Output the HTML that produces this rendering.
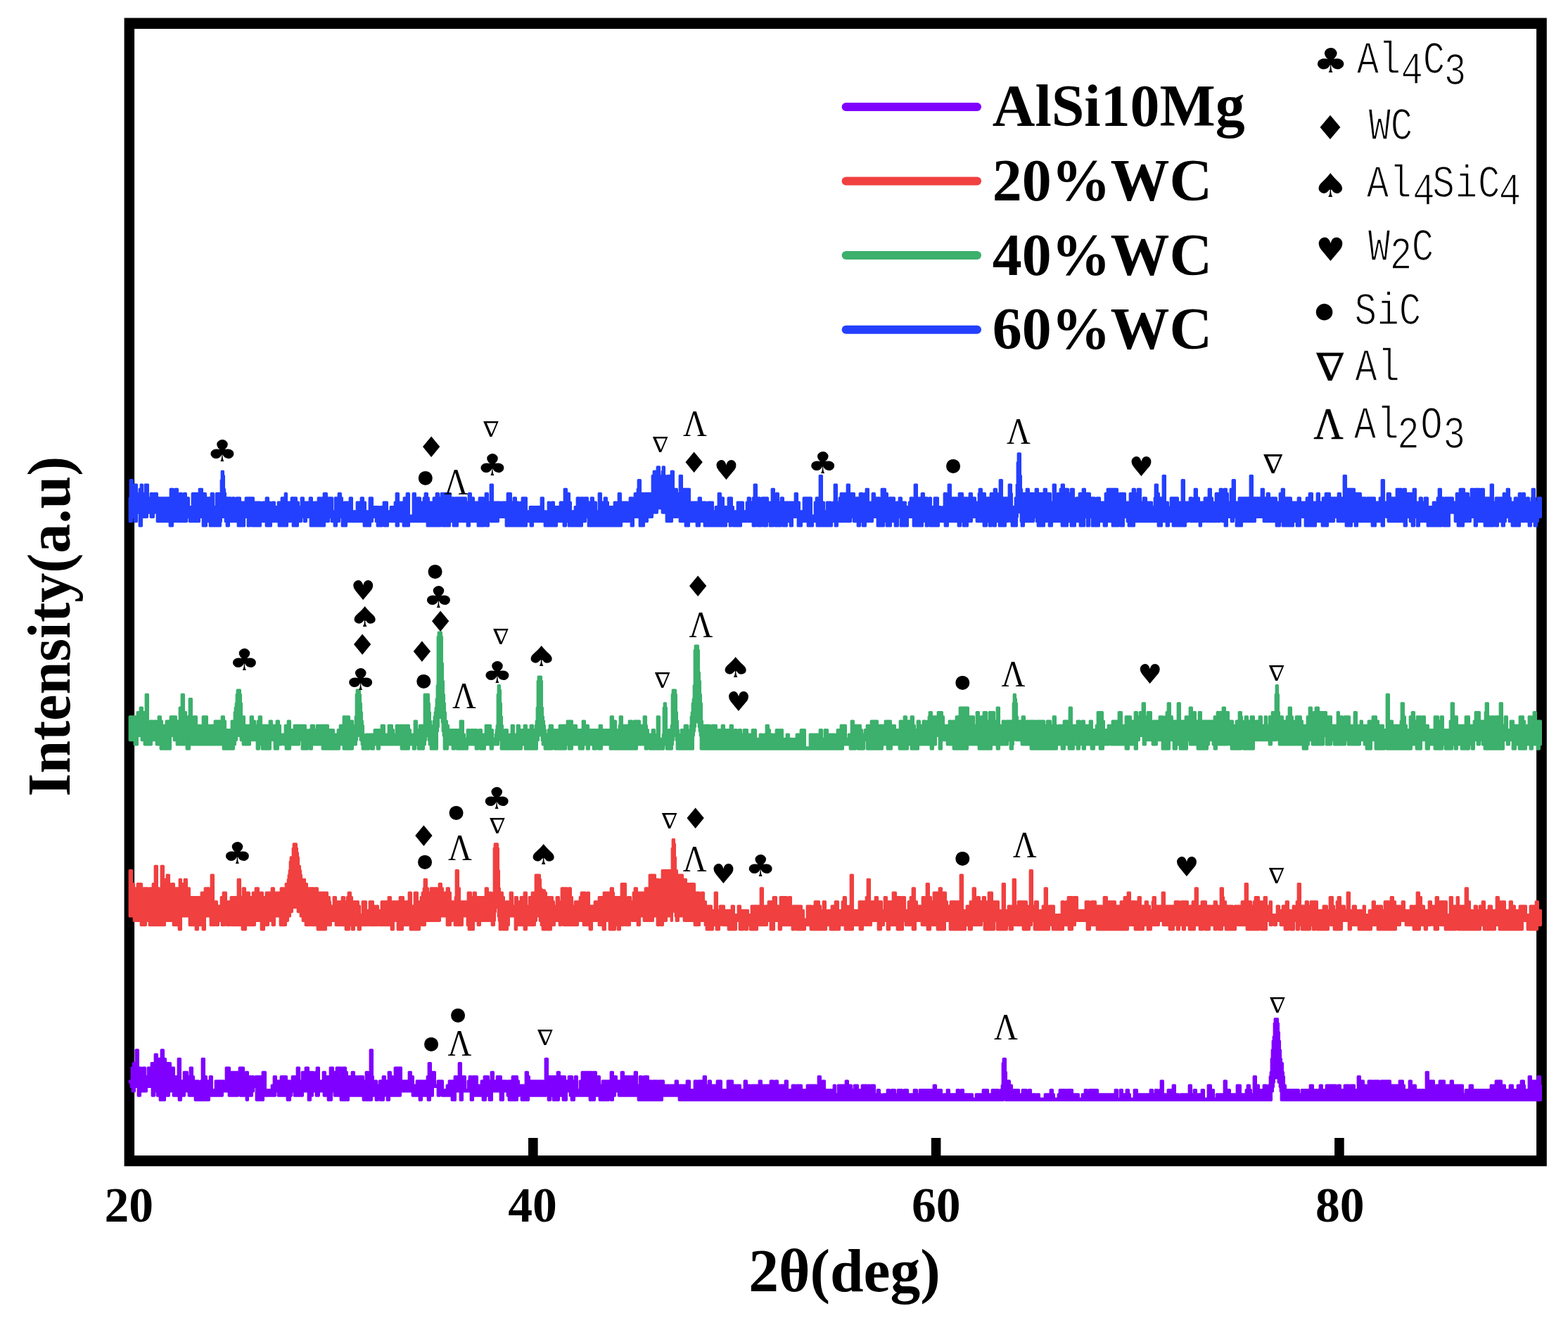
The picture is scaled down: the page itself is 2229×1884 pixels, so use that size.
<!DOCTYPE html>
<html lang="en">
<head>
<meta charset="utf-8">
<title>XRD patterns</title>
<style>
html,body{margin:0;padding:0;background:#fff;}
body{width:2229px;height:1884px;overflow:hidden;}
svg{display:block;}
text{fill:#000;}
</style>
</head>
<body>
<svg width="2229" height="1884" viewBox="0 0 2229 1884">
<rect width="2229" height="1884" fill="#fff"/>
<g id="frame">
<path d="M176.6 25.4H2198.8V1658.3H176.6ZM191.1 41V1642.9H2184.1V41Z" fill="#000" fill-rule="evenodd"/>
<rect x="751.0" y="1618" width="13.6" height="26" fill="#000"/>
<rect x="1323.8" y="1618" width="13.6" height="26" fill="#000"/>
<rect x="1897.1" y="1618" width="13.6" height="26" fill="#000"/>
</g>
<g id="traces">
<path d="M184.3 1537H187.3V1518.1H189.3V1511.8H193.3V1492.9H196.3V1524.4H197.3V1518.1H200.3V1524.4H203.3V1518.1H206.3V1530.7H210.3V1518.1H215.3V1511.8H220.3V1499.2H223.3V1511.8H224.3V1505.5H227.3V1511.8H229.3V1492.9H232.3V1505.5H235.3V1518.1H237.3V1511.8H242.3V1518.1H247.3V1530.7H253.3V1505.5H256.3V1537H261.3V1524.4H266.3V1530.7H270.3V1518.1H273.3V1530.7H275.3V1537H282.3V1543.3H285.3V1537H287.3V1505.5H290.3V1530.7H293.3V1537H298.3V1530.7H301.3V1549.6H306.3V1537H318.3V1543.3H321.3V1518.1H326.3V1524.4H338.3V1543.3H340.3V1518.1H346.3V1530.7H349.3V1524.4H352.3V1537H354.3V1530.7H360.3V1543.3H363.3V1530.7H371.3V1543.3H373.3V1524.4H377.3V1549.6H386.3V1543.3H389.3V1530.7H392.3V1537H397.3V1543.3H399.3V1530.7H407.3V1537H412.3V1549.6H415.3V1530.7H422.3V1518.1H425.3V1537H429.3V1524.4H434.3V1518.1H438.3V1537H440.3V1524.4H445.3V1530.7H448.3V1524.4H450.3V1518.1H453.3V1537H459.3V1524.4H462.3V1549.6H464.3V1530.7H469.3V1518.1H473.3V1524.4H478.3V1518.1H485.3V1543.3H487.3V1518.1H491.3V1524.4H493.3V1530.7H500.3V1524.4H503.3V1530.7H506.3V1537H508.3V1530.7H516.3V1537H520.3V1524.4H523.3V1537H526.3V1492.9H529.3V1530.7H530.3V1543.3H533.3V1537H535.3V1543.3H539.3V1537H544.3V1530.7H547.3V1537H552.3V1524.4H555.3V1530.7H558.3V1543.3H561.3V1518.1H570.3V1537H581.3V1524.4H584.3V1530.7H587.3V1543.3H592.3V1537H607.3V1530.7H609.3V1511.8H612.3V1543.3H614.3V1524.4H618.3V1543.3H622.3V1537H629.3V1549.6H635.3V1543.3H638.3V1537H644.3V1549.6H646.3V1530.7H649.3V1543.3H651.3V1537H652.3V1511.8H655.3V1530.7H661.3V1549.6H665.3V1537H667.3V1530.7H670.3V1543.3H672.3V1530.7H678.3V1543.3H684.3V1537H688.3V1530.7H694.3V1537H698.3V1524.4H701.3V1537H706.3V1530.7H712.3V1537H720.3V1543.3H722.3V1537H726.3V1543.3H728.3V1530.7H735.3V1537H737.3V1543.3H747.3V1524.4H750.3V1530.7H752.3V1537H772.3V1555.9H774.3V1543.3H775.3V1505.5H778.3V1537H780.3V1530.7H792.3V1524.4H795.3V1530.7H803.3V1537H808.3V1530.7H813.3V1537H817.3V1530.7H820.3V1549.6H824.3V1537H827.3V1524.4H841.3V1537H843.3V1524.4H847.3V1543.3H849.3V1530.7H852.3V1543.3H856.3V1537H866.3V1543.3H868.3V1524.4H871.3V1543.3H873.3V1530.7H876.3V1537H883.3V1524.4H886.3V1530.7H902.3V1524.4H905.3V1543.3H909.3V1530.7H912.3V1537H915.3V1530.7H921.3V1537H926.3V1543.3H928.3V1537H934.3V1549.6H936.3V1537H943.3V1543.3H960.3V1537H963.3V1549.6H965.3V1543.3H976.3V1537H980.3V1549.6H987.3V1537H990.3V1543.3H992.3V1537H1000.3V1530.7H1003.3V1543.3H1007.3V1537H1010.3V1543.3H1019.3V1537H1025.3V1549.6H1034.3V1537H1041.3V1543.3H1052.3V1549.6H1058.3V1537H1061.3V1543.3H1066.3V1549.6H1068.3V1543.3H1079.3V1537H1082.3V1543.3H1095.3V1537H1099.3V1543.3H1102.3V1537H1105.3V1549.6H1107.3V1543.3H1116.3V1537H1119.3V1549.6H1126.3V1543.3H1130.3V1549.6H1132.3V1543.3H1139.3V1549.6H1147.3V1543.3H1160.3V1549.6H1163.3V1530.7H1166.3V1543.3H1169.3V1537H1172.3V1549.6H1185.3V1543.3H1187.3V1555.9H1191.3V1543.3H1202.3V1537H1205.3V1543.3H1210.3V1549.6H1214.3V1543.3H1219.3V1549.6H1225.3V1543.3H1232.3V1549.6H1234.3V1543.3H1236.3V1549.6H1238.3V1543.3H1243.3V1555.9H1247.3V1549.6H1250.3V1555.9H1252.3V1562.2H1255.3V1555.9H1261.3V1549.6H1264.3V1555.9H1267.3V1549.6H1272.3V1555.9H1276.3V1549.6H1282.3V1555.9H1285.3V1549.6H1290.3V1555.9H1299.3V1549.6H1303.3V1555.9H1307.3V1549.6H1327.3V1543.3H1330.3V1549.6H1338.3V1562.2H1341.3V1555.9H1346.3V1549.6H1349.3V1555.9H1360.3V1549.6H1363.3V1555.9H1366.3V1549.6H1369.3V1555.9H1382.3V1562.2H1387.3V1555.9H1397.3V1549.6H1404.3V1555.9H1410.3V1549.6H1419.3V1555.9H1422.3V1549.6H1424.3V1543.3H1425.3V1511.8H1426.3V1505.5H1429.3V1524.4H1430.3V1537H1431.3V1543.3H1432.3V1537H1435.3V1543.3H1438.3V1549.6H1448.3V1555.9H1453.3V1549.6H1459.3V1562.2H1462.3V1549.6H1465.3V1555.9H1472.3V1562.2H1474.3V1555.9H1477.3V1562.2H1485.3V1555.9H1493.3V1549.6H1496.3V1555.9H1498.3V1562.2H1504.3V1555.9H1506.3V1549.6H1514.3V1555.9H1516.3V1549.6H1524.3V1555.9H1533.3V1562.2H1538.3V1555.9H1542.3V1549.6H1545.3V1562.2H1548.3V1549.6H1560.3V1562.2H1561.3V1555.9H1585.3V1549.6H1588.3V1562.2H1592.3V1549.6H1595.3V1555.9H1601.3V1549.6H1604.3V1555.9H1606.3V1562.2H1612.3V1549.6H1616.3V1555.9H1635.3V1549.6H1638.3V1562.2H1640.3V1555.9H1642.3V1549.6H1645.3V1555.9H1648.3V1549.6H1650.3V1537H1653.3V1555.9H1660.3V1549.6H1667.3V1543.3H1670.3V1555.9H1675.3V1562.2H1678.3V1555.9H1690.3V1543.3H1693.3V1555.9H1697.3V1549.6H1700.3V1555.9H1708.3V1549.6H1711.3V1562.2H1717.3V1543.3H1721.3V1549.6H1725.3V1562.2H1729.3V1555.9H1740.3V1537H1743.3V1549.6H1748.3V1555.9H1758.3V1543.3H1763.3V1555.9H1771.3V1549.6H1773.3V1543.3H1776.3V1549.6H1778.3V1555.9H1782.3V1530.7H1785.3V1543.3H1789.3V1549.6H1793.3V1555.9H1794.3V1549.6H1796.3V1543.3H1800.3V1549.6H1803.3V1543.3H1805.3V1530.7H1806.3V1524.4H1807.3V1505.5H1808.3V1492.9H1809.3V1480.3H1810.3V1474H1811.3V1455.1H1812.3V1448.8H1816.3V1455.1H1817.3V1467.7H1818.3V1480.3H1819.3V1492.9H1820.3V1505.5H1821.3V1511.8H1823.3V1524.4H1824.3V1530.7H1825.3V1543.3H1827.3V1549.6H1846.3V1555.9H1850.3V1549.6H1860.3V1555.9H1862.3V1543.3H1866.3V1555.9H1868.3V1549.6H1876.3V1543.3H1879.3V1549.6H1883.3V1555.9H1885.3V1543.3H1899.3V1549.6H1902.3V1543.3H1905.3V1549.6H1911.3V1543.3H1918.3V1555.9H1920.3V1543.3H1925.3V1549.6H1930.3V1530.7H1933.3V1549.6H1935.3V1537H1938.3V1543.3H1942.3V1549.6H1945.3V1537H1951.3V1543.3H1953.3V1537H1960.3V1543.3H1963.3V1537H1976.3V1543.3H1989.3V1537H1994.3V1543.3H1996.3V1549.6H2003.3V1537H2006.3V1549.6H2009.3V1543.3H2012.3V1549.6H2024.3V1555.9H2026.3V1549.6H2027.3V1524.4H2030.3V1537H2038.3V1549.6H2041.3V1543.3H2044.3V1549.6H2046.3V1537H2053.3V1543.3H2062.3V1537H2065.3V1543.3H2079.3V1555.9H2083.3V1549.6H2089.3V1543.3H2093.3V1549.6H2119.3V1543.3H2121.3V1549.6H2123.3V1543.3H2126.3V1537H2134.3V1555.9H2136.3V1543.3H2139.3V1549.6H2146.3V1543.3H2150.3V1549.6H2157.3V1543.3H2160.3V1555.9H2162.3V1537H2166.3V1543.3H2167.3V1549.6H2173.3V1530.7H2176.3V1537H2186.3V1530.7H2189.3V1543.3H2190.3V1564.3H1821.3V1551.7H1820.3V1545.4H1819.3V1539.1H1817.3V1532.8H1811.3V1539.1H1810.3V1545.4H1809.3V1551.7H1807.3V1564.3H1429.3V1551.7H1427.3V1558H1426.3V1564.3H965.3V1558H941.3V1564.3H921.3V1558H919.3V1564.3H911.3V1558H909.3V1564.3H907.3V1558H884.3V1551.7H882.3V1558H879.3V1551.7H874.3V1558H871.3V1564.3H868.3V1551.7H865.3V1564.3H852.3V1558H845.3V1564.3H838.3V1558H832.3V1551.7H830.3V1558H816.3V1564.3H812.3V1558H810.3V1551.7H805.3V1564.3H800.3V1558H794.3V1564.3H791.3V1558H789.3V1564.3H786.3V1558H782.3V1564.3H779.3V1551.7H776.3V1558H751.3V1564.3H746.3V1551.7H744.3V1564.3H741.3V1551.7H738.3V1558H735.3V1564.3H723.3V1558H721.3V1551.7H715.3V1564.3H711.3V1551.7H699.3V1564.3H695.3V1558H690.3V1564.3H686.3V1551.7H684.3V1558H672.3V1564.3H669.3V1551.7H657.3V1564.3H654.3V1551.7H647.3V1564.3H642.3V1551.7H640.3V1558H637.3V1551.7H635.3V1558H628.3V1551.7H625.3V1558H622.3V1545.4H615.3V1558H611.3V1564.3H608.3V1558H599.3V1564.3H596.3V1558H586.3V1551.7H569.3V1558H553.3V1564.3H550.3V1551.7H547.3V1558H545.3V1564.3H540.3V1558H537.3V1564.3H534.3V1558H528.3V1564.3H516.3V1558H495.3V1564.3H492.3V1551.7H490.3V1564.3H484.3V1558H475.3V1551.7H471.3V1564.3H466.3V1558H460.3V1551.7H453.3V1558H449.3V1551.7H444.3V1558H441.3V1564.3H438.3V1551.7H430.3V1558H418.3V1551.7H414.3V1558H412.3V1564.3H408.3V1558H406.3V1551.7H404.3V1558H400.3V1551.7H398.3V1558H395.3V1551.7H391.3V1558H374.3V1564.3H364.3V1545.4H360.3V1551.7H358.3V1558H354.3V1551.7H352.3V1564.3H350.3V1558H341.3V1545.4H338.3V1558H325.3V1551.7H316.3V1558H311.3V1551.7H309.3V1558H297.3V1564.3H288.3V1558H286.3V1564.3H282.3V1558H280.3V1564.3H277.3V1558H268.3V1551.7H262.3V1558H257.3V1564.3H254.3V1558H246.3V1545.4H243.3V1551.7H240.3V1558H236.3V1551.7H234.3V1564.3H227.3V1558H223.3V1545.4H221.3V1551.7H219.3V1558H216.3V1545.4H208.3V1551.7H199.3V1558H196.3V1539.1H194.3V1545.4H191.3V1551.7H188.3V1545.4H186.3V1539.1H184.3Z" fill="#8000ff" stroke="#8000ff" stroke-width="3.4" stroke-linejoin="round"/>
<path d="M184.3 1237.8H187.3V1256.7H190.3V1269.3H192.3V1263H195.3V1256.7H201.3V1263H210.3V1269.3H212.3V1263H215.3V1269.3H217.3V1256.7H220.3V1231.5H223.3V1263H226.3V1269.3H229.3V1231.5H232.3V1250.4H235.3V1263H237.3V1244.1H240.3V1256.7H242.3V1263H244.3V1256.7H247.3V1263H253.3V1269.3H255.3V1250.4H257.3V1256.7H262.3V1250.4H265.3V1275.6H266.3V1263H269.3V1275.6H286.3V1269.3H291.3V1263H297.3V1288.2H300.3V1244.1H303.3V1281.9H308.3V1288.2H314.3V1275.6H317.3V1269.3H321.3V1281.9H328.3V1275.6H338.3V1250.4H341.3V1275.6H343.3V1281.9H345.3V1263H348.3V1269.3H354.3V1281.9H356.3V1275.6H359.3V1269.3H363.3V1263H367.3V1281.9H370.3V1269.3H373.3V1275.6H378.3V1269.3H386.3V1263H389.3V1269.3H399.3V1263H403.3V1269.3H405.3V1263H406.3V1256.7H409.3V1250.4H410.3V1244.1H411.3V1237.8H412.3V1225.2H413.3V1218.9H415.3V1225.2H416.3V1206.3H417.3V1200H421.3V1206.3H422.3V1212.6H423.3V1218.9H424.3V1231.5H426.3V1237.8H427.3V1244.1H428.3V1250.4H433.3V1256.7H436.3V1263H446.3V1281.9H448.3V1263H451.3V1269.3H454.3V1275.6H455.3V1269.3H465.3V1275.6H468.3V1281.9H469.3V1288.2H474.3V1275.6H477.3V1281.9H484.3V1288.2H486.3V1275.6H489.3V1281.9H493.3V1275.6H495.3V1269.3H498.3V1275.6H500.3V1281.9H509.3V1288.2H511.3V1300.8H515.3V1281.9H520.3V1294.5H523.3V1300.8H525.3V1281.9H530.3V1288.2H533.3V1300.8H535.3V1288.2H537.3V1294.5H542.3V1281.9H552.3V1275.6H555.3V1294.5H558.3V1281.9H568.3V1275.6H573.3V1288.2H575.3V1281.9H581.3V1269.3H584.3V1288.2H589.3V1269.3H593.3V1294.5H595.3V1281.9H598.3V1275.6H600.3V1269.3H602.3V1263H603.3V1250.4H606.3V1263H608.3V1269.3H612.3V1263H621.3V1269.3H624.3V1256.7H627.3V1263H629.3V1269.3H635.3V1263H638.3V1269.3H640.3V1281.9H647.3V1275.6H648.3V1237.8H651.3V1263H653.3V1281.9H665.3V1269.3H669.3V1275.6H671.3V1288.2H673.3V1269.3H676.3V1275.6H690.3V1263H693.3V1281.9H695.3V1269.3H698.3V1275.6H701.3V1269.3H702.3V1206.3H703.3V1200H707.3V1206.3H708.3V1237.8H709.3V1263H710.3V1275.6H711.3V1269.3H714.3V1275.6H716.3V1288.2H719.3V1281.9H722.3V1288.2H725.3V1269.3H728.3V1288.2H732.3V1275.6H735.3V1281.9H740.3V1275.6H745.3V1269.3H748.3V1288.2H752.3V1275.6H756.3V1269.3H761.3V1244.1H767.3V1250.4H768.3V1263H769.3V1265.3H770.3V1265.5H771.3V1265.7H772.3V1265.9H773.3V1266H774.3V1269.3H776.3V1275.6H785.3V1281.9H787.3V1288.2H791.3V1275.6H794.3V1281.9H798.3V1263H806.3V1269.3H808.3V1263H811.3V1275.6H813.3V1288.2H817.3V1281.9H824.3V1275.6H826.3V1269.3H832.3V1275.6H835.3V1269.3H837.3V1288.2H845.3V1281.9H851.3V1275.6H858.3V1269.3H868.3V1263H871.3V1269.3H872.3V1281.9H874.3V1275.6H883.3V1256.7H889.3V1281.9H892.3V1275.6H896.3V1281.9H900.3V1269.3H902.3V1263H905.3V1275.6H906.3V1269.3H917.3V1263H921.3V1269.3H923.3V1244.1H931.3V1263H932.3V1250.4H936.3V1256.7H939.3V1250.4H941.3V1237.8H953.3V1244.1H955.3V1206.3H956.3V1193.7H958.3V1200H959.3V1218.9H960.3V1237.8H962.3V1244.1H970.3V1250.4H975.3V1256.7H987.3V1269.3H994.3V1281.9H997.3V1269.3H1000.3V1281.9H1003.3V1288.2H1011.3V1294.5H1016.3V1269.3H1019.3V1294.5H1023.3V1288.2H1029.3V1294.5H1040.3V1288.2H1043.3V1300.8H1049.3V1288.2H1052.3V1294.5H1063.3V1300.8H1068.3V1288.2H1081.3V1263H1084.3V1288.2H1086.3V1294.5H1088.3V1288.2H1092.3V1281.9H1097.3V1288.2H1099.3V1275.6H1103.3V1294.5H1104.3V1288.2H1109.3V1275.6H1118.3V1288.2H1121.3V1275.6H1124.3V1294.5H1127.3V1288.2H1139.3V1294.5H1142.3V1307.1H1147.3V1288.2H1153.3V1307.1H1156.3V1288.2H1158.3V1281.9H1164.3V1288.2H1166.3V1300.8H1168.3V1294.5H1170.3V1281.9H1173.3V1300.8H1176.3V1294.5H1182.3V1288.2H1187.3V1281.9H1191.3V1294.5H1197.3V1281.9H1199.3V1275.6H1202.3V1288.2H1204.3V1294.5H1207.3V1288.2H1209.3V1244.1H1212.3V1294.5H1221.3V1281.9H1231.3V1275.6H1233.3V1250.4H1236.3V1281.9H1244.3V1275.6H1247.3V1281.9H1253.3V1294.5H1257.3V1275.6H1260.3V1281.9H1269.3V1269.3H1273.3V1275.6H1281.3V1288.2H1283.3V1275.6H1286.3V1294.5H1291.3V1281.9H1294.3V1275.6H1297.3V1263H1300.3V1281.9H1303.3V1288.2H1309.3V1294.5H1311.3V1275.6H1314.3V1281.9H1316.3V1288.2H1317.3V1256.7H1320.3V1275.6H1323.3V1281.9H1327.3V1269.3H1335.3V1263H1338.3V1269.3H1344.3V1281.9H1346.3V1288.2H1351.3V1281.9H1363.3V1288.2H1365.3V1244.1H1368.3V1294.5H1374.3V1288.2H1379.3V1281.9H1382.3V1288.2H1383.3V1263H1386.3V1288.2H1389.3V1275.6H1392.3V1281.9H1397.3V1275.6H1400.3V1288.2H1403.3V1281.9H1405.3V1269.3H1410.3V1294.5H1412.3V1281.9H1419.3V1294.5H1422.3V1300.8H1425.3V1256.7H1428.3V1294.5H1433.3V1288.2H1436.3V1294.5H1438.3V1288.2H1440.3V1250.4H1443.3V1288.2H1447.3V1281.9H1459.3V1288.2H1461.3V1294.5H1464.3V1237.8H1467.3V1288.2H1471.3V1281.9H1475.3V1307.1H1478.3V1294.5H1482.3V1288.2H1485.3V1263H1488.3V1300.8H1491.3V1288.2H1498.3V1300.8H1509.3V1281.9H1512.3V1288.2H1515.3V1281.9H1518.3V1275.6H1524.3V1288.2H1526.3V1275.6H1531.3V1294.5H1543.3V1281.9H1548.3V1288.2H1551.3V1281.9H1557.3V1288.2H1569.3V1275.6H1573.3V1300.8H1575.3V1281.9H1585.3V1288.2H1593.3V1281.9H1596.3V1288.2H1598.3V1275.6H1603.3V1269.3H1606.3V1281.9H1614.3V1294.5H1616.3V1281.9H1618.3V1275.6H1621.3V1288.2H1628.3V1281.9H1631.3V1288.2H1634.3V1294.5H1638.3V1281.9H1639.3V1275.6H1642.3V1288.2H1652.3V1269.3H1655.3V1288.2H1670.3V1281.9H1676.3V1288.2H1679.3V1281.9H1688.3V1294.5H1691.3V1288.2H1695.3V1281.9H1699.3V1263H1702.3V1294.5H1705.3V1288.2H1708.3V1281.9H1714.3V1288.2H1724.3V1294.5H1726.3V1281.9H1729.3V1288.2H1732.3V1294.5H1734.3V1288.2H1735.3V1263H1738.3V1275.6H1739.3V1281.9H1742.3V1288.2H1752.3V1300.8H1755.3V1288.2H1765.3V1281.9H1770.3V1256.7H1773.3V1281.9H1778.3V1288.2H1782.3V1281.9H1784.3V1275.6H1789.3V1281.9H1793.3V1288.2H1795.3V1281.9H1797.3V1275.6H1800.3V1288.2H1805.3V1281.9H1807.3V1300.8H1815.3V1288.2H1818.3V1294.5H1821.3V1300.8H1823.3V1288.2H1828.3V1281.9H1831.3V1300.8H1833.3V1294.5H1838.3V1288.2H1840.3V1300.8H1843.3V1281.9H1845.3V1256.7H1848.3V1288.2H1856.3V1281.9H1859.3V1288.2H1863.3V1281.9H1872.3V1294.5H1881.3V1288.2H1886.3V1294.5H1890.3V1275.6H1894.3V1288.2H1896.3V1294.5H1900.3V1281.9H1902.3V1275.6H1905.3V1294.5H1906.3V1288.2H1911.3V1294.5H1915.3V1269.3H1918.3V1294.5H1923.3V1288.2H1927.3V1294.5H1938.3V1288.2H1940.3V1300.8H1946.3V1294.5H1951.3V1281.9H1954.3V1294.5H1957.3V1288.2H1964.3V1294.5H1968.3V1281.9H1977.3V1275.6H1980.3V1281.9H1983.3V1288.2H1990.3V1294.5H1993.3V1281.9H1996.3V1294.5H2002.3V1300.8H2005.3V1288.2H2008.3V1294.5H2010.3V1288.2H2014.3V1269.3H2017.3V1275.6H2020.3V1288.2H2024.3V1294.5H2029.3V1300.8H2031.3V1281.9H2034.3V1300.8H2036.3V1288.2H2039.3V1294.5H2041.3V1275.6H2044.3V1281.9H2056.3V1300.8H2061.3V1275.6H2064.3V1288.2H2071.3V1275.6H2073.3V1300.8H2075.3V1288.2H2083.3V1263H2086.3V1281.9H2089.3V1294.5H2093.3V1300.8H2096.3V1288.2H2099.3V1294.5H2103.3V1288.2H2107.3V1281.9H2110.3V1294.5H2114.3V1307.1H2116.3V1288.2H2120.3V1294.5H2127.3V1275.6H2130.3V1281.9H2133.3V1307.1H2135.3V1281.9H2139.3V1294.5H2146.3V1281.9H2149.3V1288.2H2153.3V1294.5H2160.3V1288.2H2169.3V1300.8H2175.3V1288.2H2183.3V1281.9H2186.3V1294.5H2190.3V1315.5H2185.3V1321.8H2176.3V1315.5H2174.3V1321.8H2171.3V1309.2H2164.3V1321.8H2138.3V1315.5H2136.3V1321.8H2131.3V1315.5H2125.3V1321.8H2109.3V1315.5H2106.3V1309.2H2104.3V1321.8H2096.3V1315.5H2094.3V1321.8H2072.3V1309.2H2069.3V1321.8H2054.3V1315.5H2047.3V1309.2H2044.3V1321.8H2039.3V1315.5H2037.3V1309.2H2034.3V1315.5H2028.3V1321.8H2025.3V1315.5H2018.3V1321.8H2009.3V1315.5H1998.3V1309.2H1990.3V1315.5H1984.3V1321.8H1981.3V1315.5H1979.3V1321.8H1968.3V1309.2H1966.3V1321.8H1963.3V1309.2H1961.3V1321.8H1958.3V1315.5H1949.3V1321.8H1931.3V1315.5H1920.3V1321.8H1917.3V1309.2H1907.3V1321.8H1904.3V1315.5H1902.3V1321.8H1896.3V1315.5H1891.3V1309.2H1888.3V1321.8H1872.3V1315.5H1869.3V1321.8H1866.3V1315.5H1862.3V1321.8H1850.3V1315.5H1846.3V1321.8H1843.3V1309.2H1839.3V1321.8H1834.3V1309.2H1831.3V1321.8H1826.3V1315.5H1820.3V1309.2H1814.3V1315.5H1811.3V1309.2H1808.3V1315.5H1805.3V1309.2H1800.3V1321.8H1797.3V1309.2H1795.3V1321.8H1792.3V1309.2H1789.3V1321.8H1781.3V1315.5H1779.3V1321.8H1772.3V1315.5H1760.3V1309.2H1758.3V1315.5H1756.3V1321.8H1742.3V1315.5H1737.3V1321.8H1732.3V1315.5H1729.3V1321.8H1726.3V1315.5H1719.3V1321.8H1713.3V1309.2H1710.3V1321.8H1705.3V1315.5H1698.3V1321.8H1690.3V1309.2H1688.3V1315.5H1684.3V1321.8H1681.3V1309.2H1678.3V1315.5H1676.3V1321.8H1673.3V1309.2H1670.3V1315.5H1668.3V1321.8H1662.3V1315.5H1653.3V1309.2H1647.3V1315.5H1638.3V1309.2H1636.3V1321.8H1631.3V1315.5H1625.3V1321.8H1613.3V1315.5H1603.3V1321.8H1598.3V1315.5H1596.3V1321.8H1593.3V1315.5H1591.3V1321.8H1588.3V1315.5H1586.3V1321.8H1581.3V1309.2H1579.3V1321.8H1559.3V1315.5H1549.3V1321.8H1545.3V1309.2H1528.3V1315.5H1524.3V1321.8H1519.3V1315.5H1511.3V1321.8H1496.3V1315.5H1494.3V1309.2H1491.3V1321.8H1470.3V1309.2H1466.3V1315.5H1463.3V1321.8H1454.3V1315.5H1442.3V1309.2H1439.3V1321.8H1435.3V1315.5H1431.3V1321.8H1417.3V1309.2H1413.3V1321.8H1410.3V1309.2H1408.3V1321.8H1399.3V1309.2H1395.3V1315.5H1383.3V1309.2H1381.3V1321.8H1377.3V1315.5H1372.3V1321.8H1355.3V1315.5H1353.3V1321.8H1350.3V1309.2H1343.3V1321.8H1332.3V1315.5H1322.3V1321.8H1318.3V1315.5H1310.3V1309.2H1301.3V1321.8H1297.3V1309.2H1294.3V1315.5H1287.3V1309.2H1283.3V1321.8H1275.3V1315.5H1264.3V1321.8H1261.3V1309.2H1256.3V1315.5H1252.3V1321.8H1248.3V1309.2H1238.3V1315.5H1235.3V1309.2H1233.3V1315.5H1230.3V1309.2H1228.3V1315.5H1226.3V1321.8H1222.3V1309.2H1220.3V1315.5H1212.3V1321.8H1207.3V1315.5H1205.3V1321.8H1201.3V1309.2H1199.3V1315.5H1193.3V1321.8H1180.3V1315.5H1174.3V1321.8H1152.3V1315.5H1144.3V1321.8H1132.3V1315.5H1129.3V1321.8H1126.3V1315.5H1110.3V1321.8H1107.3V1309.2H1100.3V1321.8H1095.3V1309.2H1090.3V1315.5H1076.3V1321.8H1066.3V1315.5H1062.3V1321.8H1059.3V1315.5H1056.3V1321.8H1051.3V1309.2H1046.3V1321.8H1035.3V1315.5H1027.3V1309.2H1024.3V1315.5H1022.3V1321.8H1018.3V1315.5H1013.3V1321.8H1009.3V1315.5H1007.3V1321.8H1004.3V1315.5H1002.3V1309.2H994.3V1315.5H987.3V1309.2H983.3V1302.9H981.3V1309.2H978.3V1302.9H976.3V1309.2H972.3V1296.6H970.3V1302.9H964.3V1309.2H961.3V1302.9H960.3V1296.6H959.3V1284H957.3V1290.3H956.3V1296.6H955.3V1309.2H954.3V1302.9H947.3V1309.2H942.3V1315.5H939.3V1302.9H937.3V1315.5H934.3V1302.9H928.3V1309.2H915.3V1302.9H909.3V1315.5H906.3V1309.2H898.3V1302.9H895.3V1315.5H889.3V1309.2H887.3V1315.5H881.3V1321.8H878.3V1309.2H876.3V1315.5H874.3V1321.8H866.3V1309.2H860.3V1321.8H857.3V1315.5H851.3V1309.2H841.3V1321.8H838.3V1315.5H829.3V1309.2H821.3V1315.5H801.3V1309.2H798.3V1315.5H795.3V1309.2H788.3V1315.5H783.3V1321.8H771.3V1315.5H769.3V1309.2H767.3V1302.9H762.3V1309.2H760.3V1315.5H748.3V1321.8H745.3V1315.5H736.3V1309.2H734.3V1321.8H732.3V1302.9H723.3V1315.5H721.3V1321.8H715.3V1309.2H713.3V1321.8H710.3V1309.2H709.3V1302.9H708.3V1290.3H707.3V1284H705.3V1290.3H704.3V1296.6H703.3V1309.2H702.3V1315.5H699.3V1309.2H682.3V1315.5H679.3V1309.2H673.3V1321.8H666.3V1315.5H664.3V1302.9H657.3V1315.5H646.3V1302.9H643.3V1309.2H640.3V1315.5H635.3V1302.9H625.3V1309.2H604.3V1315.5H596.3V1321.8H583.3V1309.2H580.3V1315.5H572.3V1321.8H565.3V1309.2H559.3V1321.8H556.3V1315.5H539.3V1309.2H537.3V1315.5H524.3V1309.2H522.3V1315.5H514.3V1309.2H512.3V1321.8H509.3V1309.2H507.3V1315.5H503.3V1321.8H500.3V1315.5H496.3V1321.8H491.3V1315.5H477.3V1309.2H470.3V1315.5H465.3V1309.2H463.3V1321.8H460.3V1315.5H458.3V1321.8H451.3V1315.5H442.3V1302.9H440.3V1315.5H434.3V1309.2H430.3V1302.9H427.3V1296.6H423.3V1290.3H420.3V1284H418.3V1290.3H415.3V1296.6H412.3V1302.9H409.3V1309.2H406.3V1315.5H398.3V1302.9H390.3V1315.5H387.3V1309.2H383.3V1302.9H381.3V1315.5H375.3V1321.8H371.3V1309.2H362.3V1315.5H349.3V1321.8H344.3V1315.5H329.3V1309.2H327.3V1315.5H322.3V1309.2H319.3V1315.5H315.3V1309.2H310.3V1315.5H307.3V1309.2H305.3V1315.5H299.3V1302.9H291.3V1321.8H288.3V1315.5H283.3V1302.9H281.3V1321.8H278.3V1315.5H269.3V1302.9H257.3V1321.8H254.3V1315.5H246.3V1309.2H234.3V1315.5H212.3V1309.2H207.3V1315.5H200.3V1309.2H190.3V1302.9H184.3Z" fill="#f04040" stroke="#f04040" stroke-width="3.4" stroke-linejoin="round"/>
<path d="M184.3 1018.9H195.3V1012.6H199.3V1006.3H202.3V1012.6H207.3V987.4H210.3V1031.5H213.3V1025.2H217.3V1031.5H219.3V1025.2H222.3V1031.5H225.3V1018.9H228.3V1025.2H230.3V1031.5H234.3V1037.8H236.3V1025.2H242.3V1018.9H250.3V1025.2H255.3V1006.3H258.3V987.4H261.3V1012.6H264.3V1018.9H269.3V993.7H272.3V1025.2H275.3V1018.9H279.3V1037.8H281.3V1031.5H285.3V1044.1H288.3V1018.9H294.3V1031.5H303.3V1044.1H305.3V1025.2H315.3V1018.9H318.3V1025.2H320.3V1037.8H329.3V1025.2H333.3V1012.6H334.3V1006.3H335.3V1000H336.3V987.4H337.3V981.1H341.3V987.4H342.3V1000H343.3V1018.9H347.3V1031.5H356.3V1018.9H359.3V1025.2H362.3V1031.5H366.3V1025.2H368.3V1018.9H371.3V1031.5H383.3V1025.2H386.3V1031.5H393.3V1025.2H396.3V1031.5H398.3V1044.1H405.3V1031.5H407.3V1037.8H409.3V1025.2H412.3V1037.8H418.3V1031.5H434.3V1037.8H436.3V1044.1H439.3V1037.8H442.3V1031.5H446.3V1037.8H450.3V1031.5H454.3V1037.8H456.3V1031.5H466.3V1037.8H474.3V1044.1H480.3V1037.8H483.3V1031.5H488.3V1018.9H491.3V1025.2H493.3V1018.9H496.3V1025.2H501.3V1037.8H504.3V1031.5H505.3V1018.9H506.3V987.4H507.3V981.1H511.3V987.4H512.3V1000H513.3V1012.6H514.3V1025.2H515.3V1031.5H516.3V1044.1H517.3V1050.4H520.3V1044.1H530.3V1050.4H532.3V1037.8H542.3V1031.5H546.3V1044.1H552.3V1031.5H557.3V1037.8H559.3V1044.1H563.3V1031.5H567.3V1050.4H569.3V1031.5H573.3V1044.1H575.3V1031.5H581.3V1037.8H583.3V1044.1H589.3V1025.2H592.3V1037.8H596.3V1031.5H603.3V987.4H609.3V1000H610.3V1012.6H611.3V1025.2H612.3V1037.8H613.3V1044.1H614.3V1037.8H615.3V1031.5H616.3V1025.2H617.3V1018.9H618.3V1012.6H619.3V1006.3H620.3V993.7H621.3V974.8H622.3V905.5H623.3V899.2H627.3V905.5H628.3V943.3H629.3V968.5H630.3V987.4H631.3V1000H632.3V1012.6H633.3V1025.2H635.3V1031.5H637.3V1037.8H654.3V1025.2H658.3V1044.1H660.3V1050.4H664.3V1037.8H667.3V1044.1H669.3V1037.8H678.3V1044.1H681.3V1037.8H684.3V1044.1H690.3V1031.5H697.3V1037.8H700.3V1050.4H704.3V1044.1H705.3V1037.8H706.3V1031.5H707.3V987.4H708.3V974.8H710.3V981.1H711.3V1000H712.3V1018.9H713.3V1031.5H714.3V1037.8H715.3V1050.4H717.3V1037.8H721.3V1050.4H724.3V1044.1H727.3V1031.5H730.3V1044.1H735.3V1031.5H738.3V1044.1H740.3V1037.8H743.3V1050.4H745.3V1031.5H748.3V1037.8H754.3V1031.5H757.3V1044.1H759.3V1037.8H761.3V1031.5H762.3V1025.2H763.3V1006.3H764.3V968.5H765.3V962.2H769.3V968.5H770.3V1006.3H771.3V1018.9H772.3V1025.2H773.3V1031.5H774.3V1037.8H775.3V1044.1H776.3V1050.4H777.3V1044.1H779.3V1037.8H781.3V1031.5H785.3V1050.4H787.3V1037.8H790.3V1044.1H792.3V1037.8H795.3V1031.5H806.3V1025.2H813.3V1031.5H814.3V1044.1H816.3V1031.5H819.3V1037.8H828.3V1025.2H831.3V1031.5H836.3V1037.8H850.3V1044.1H852.3V1031.5H855.3V1037.8H868.3V1018.9H871.3V1025.2H875.3V1044.1H877.3V1037.8H880.3V1031.5H881.3V1018.9H884.3V1031.5H894.3V1025.2H898.3V1037.8H901.3V1025.2H909.3V1037.8H911.3V1031.5H915.3V1018.9H918.3V1031.5H919.3V1037.8H921.3V1044.1H927.3V1037.8H930.3V1056.7H933.3V1044.1H934.3V1018.9H937.3V1050.4H942.3V1044.1H943.3V1006.3H944.3V1000H946.3V1006.3H947.3V1037.8H948.3V1050.4H950.3V1037.8H954.3V1031.5H955.3V987.4H956.3V981.1H960.3V987.4H961.3V1012.6H962.3V1025.2H963.3V1037.8H964.3V1044.1H965.3V1050.4H968.3V1037.8H973.3V1031.5H977.3V1044.1H980.3V1037.8H981.3V1031.5H982.3V1018.9H983.3V1012.6H984.3V1000H985.3V993.7H986.3V974.8H987.3V924.4H988.3V918.1H992.3V924.4H993.3V955.9H994.3V968.5H995.3V987.4H996.3V1000H997.3V1025.2H998.3V1031.5H999.3V1037.8H1000.3V1031.5H1001.3V1037.8H1002.3V1031.5H1009.3V1037.8H1012.3V1031.5H1018.3V1044.1H1021.3V1037.8H1026.3V1031.5H1029.3V1037.8H1038.3V1031.5H1041.3V1050.4H1044.3V1037.8H1047.3V1050.4H1050.3V1037.8H1053.3V1044.1H1057.3V1037.8H1062.3V1050.4H1064.3V1044.1H1067.3V1050.4H1069.3V1037.8H1074.3V1050.4H1080.3V1044.1H1083.3V1050.4H1086.3V1044.1H1089.3V1031.5H1092.3V1037.8H1094.3V1050.4H1096.3V1044.1H1099.3V1050.4H1101.3V1044.1H1103.3V1037.8H1107.3V1044.1H1109.3V1037.8H1112.3V1050.4H1118.3V1044.1H1121.3V1050.4H1127.3V1056.7H1129.3V1050.4H1132.3V1044.1H1138.3V1037.8H1144.3V1063H1151.3V1044.1H1163.3V1056.7H1165.3V1037.8H1168.3V1056.7H1170.3V1050.4H1172.3V1037.8H1176.3V1044.1H1187.3V1050.4H1190.3V1037.8H1195.3V1031.5H1202.3V1050.4H1206.3V1044.1H1210.3V1025.2H1213.3V1031.5H1223.3V1037.8H1225.3V1044.1H1229.3V1037.8H1232.3V1031.5H1235.3V1037.8H1238.3V1025.2H1247.3V1031.5H1256.3V1037.8H1258.3V1025.2H1266.3V1044.1H1269.3V1031.5H1272.3V1037.8H1279.3V1025.2H1282.3V1031.5H1285.3V1018.9H1288.3V1025.2H1295.3V1018.9H1298.3V1031.5H1300.3V1037.8H1304.3V1025.2H1307.3V1031.5H1312.3V1025.2H1315.3V1031.5H1318.3V1025.2H1320.3V1018.9H1321.3V1012.6H1324.3V1025.2H1326.3V1018.9H1333.3V1012.6H1339.3V1018.9H1341.3V1031.5H1349.3V1025.2H1352.3V1031.5H1354.3V1025.2H1357.3V1031.5H1359.3V1018.9H1362.3V1025.2H1364.3V1006.3H1376.3V1018.9H1384.3V1031.5H1388.3V1012.6H1391.3V1031.5H1394.3V1018.9H1398.3V1012.6H1402.3V1025.2H1406.3V1012.6H1413.3V1025.2H1416.3V1031.5H1417.3V1006.3H1420.3V1031.5H1425.3V1025.2H1428.3V1031.5H1430.3V1025.2H1440.3V1000H1441.3V987.4H1443.3V993.7H1444.3V1000H1445.3V1018.9H1446.3V1031.5H1447.3V1025.2H1451.3V1031.5H1453.3V1018.9H1456.3V1031.5H1459.3V1025.2H1471.3V1031.5H1473.3V1025.2H1484.3V1031.5H1488.3V1025.2H1493.3V1031.5H1497.3V1018.9H1500.3V1031.5H1502.3V1037.8H1505.3V1031.5H1512.3V1025.2H1520.3V1006.3H1523.3V1031.5H1531.3V1025.2H1535.3V1031.5H1538.3V1025.2H1541.3V1044.1H1543.3V1031.5H1549.3V1025.2H1552.3V1037.8H1558.3V1031.5H1560.3V1012.6H1567.3V1025.2H1569.3V1037.8H1575.3V1031.5H1581.3V1025.2H1590.3V1012.6H1594.3V1031.5H1600.3V1018.9H1607.3V1031.5H1609.3V1025.2H1613.3V1012.6H1616.3V1018.9H1618.3V1025.2H1620.3V1012.6H1623.3V1031.5H1624.3V1000H1627.3V1018.9H1631.3V1012.6H1636.3V1031.5H1639.3V1025.2H1646.3V1031.5H1648.3V1018.9H1653.3V1031.5H1656.3V1018.9H1658.3V1012.6H1660.3V1000H1663.3V1018.9H1666.3V1025.2H1674.3V1000H1677.3V1025.2H1685.3V1018.9H1688.3V1031.5H1691.3V1006.3H1694.3V1018.9H1697.3V1012.6H1699.3V1025.2H1704.3V1012.6H1707.3V1025.2H1726.3V1018.9H1730.3V1012.6H1738.3V1006.3H1741.3V1018.9H1743.3V1012.6H1746.3V1025.2H1752.3V1037.8H1754.3V1031.5H1757.3V1025.2H1761.3V1012.6H1764.3V1018.9H1765.3V1025.2H1767.3V1031.5H1770.3V1018.9H1773.3V1025.2H1776.3V1037.8H1778.3V1018.9H1782.3V1037.8H1785.3V1025.2H1788.3V1031.5H1790.3V1018.9H1793.3V1031.5H1798.3V1018.9H1800.3V1031.5H1802.3V1037.8H1804.3V1018.9H1808.3V1012.6H1811.3V1031.5H1813.3V987.4H1814.3V974.8H1816.3V987.4H1817.3V1012.6H1818.3V1025.2H1820.3V1018.9H1823.3V1025.2H1829.3V1018.9H1832.3V1006.3H1835.3V1018.9H1837.3V1025.2H1839.3V1031.5H1842.3V1018.9H1849.3V1025.2H1851.3V1031.5H1858.3V1018.9H1861.3V1006.3H1864.3V1018.9H1867.3V1012.6H1870.3V1006.3H1874.3V1018.9H1876.3V1012.6H1885.3V1018.9H1892.3V1031.5H1901.3V1012.6H1903.3V1025.2H1905.3V1018.9H1908.3V1031.5H1911.3V1018.9H1918.3V1031.5H1925.3V1012.6H1928.3V1037.8H1930.3V1031.5H1934.3V1025.2H1936.3V1031.5H1945.3V1025.2H1951.3V1018.9H1956.3V1025.2H1959.3V1037.8H1961.3V1031.5H1966.3V1037.8H1971.3V987.4H1974.3V1025.2H1979.3V1031.5H1991.3V1025.2H1992.3V1000H1995.3V1018.9H1997.3V1031.5H1999.3V1037.8H2004.3V1018.9H2007.3V1012.6H2010.3V1025.2H2014.3V1018.9H2020.3V1025.2H2022.3V1018.9H2025.3V1031.5H2030.3V1037.8H2039.3V1018.9H2044.3V1025.2H2048.3V1018.9H2051.3V1037.8H2061.3V1025.2H2063.3V1000H2066.3V1025.2H2068.3V1018.9H2071.3V1031.5H2083.3V1018.9H2088.3V1031.5H2095.3V1025.2H2097.3V1012.6H2103.3V1025.2H2111.3V1012.6H2112.3V1000H2115.3V1018.9H2118.3V1025.2H2120.3V1018.9H2123.3V1025.2H2125.3V1018.9H2130.3V1037.8H2132.3V1000H2135.3V1031.5H2139.3V1018.9H2142.3V1037.8H2147.3V1025.2H2151.3V1031.5H2158.3V1037.8H2160.3V1018.9H2165.3V1025.2H2167.3V1031.5H2173.3V1018.9H2176.3V1031.5H2178.3V1018.9H2180.3V1012.6H2183.3V1037.8H2185.3V1025.2H2190.3V1058.8H2188.3V1065.1H2185.3V1058.8H2178.3V1065.1H2175.3V1058.8H2169.3V1065.1H2159.3V1058.8H2154.3V1065.1H2150.3V1052.5H2145.3V1058.8H2142.3V1052.5H2137.3V1065.1H2130.3V1058.8H2128.3V1065.1H2125.3V1058.8H2123.3V1065.1H2115.3V1058.8H2113.3V1065.1H2110.3V1058.8H2107.3V1052.5H2103.3V1058.8H2100.3V1052.5H2095.3V1065.1H2092.3V1058.8H2090.3V1052.5H2088.3V1065.1H2077.3V1058.8H2073.3V1052.5H2071.3V1065.1H2068.3V1058.8H2064.3V1065.1H2061.3V1058.8H2059.3V1065.1H2054.3V1058.8H2050.3V1065.1H2039.3V1058.8H2031.3V1065.1H2027.3V1052.5H2020.3V1065.1H2013.3V1058.8H2006.3V1065.1H1998.3V1058.8H1996.3V1065.1H1991.3V1058.8H1989.3V1065.1H1977.3V1058.8H1975.3V1065.1H1971.3V1058.8H1968.3V1065.1H1960.3V1058.8H1958.3V1065.1H1955.3V1052.5H1949.3V1065.1H1942.3V1058.8H1939.3V1052.5H1933.3V1058.8H1916.3V1052.5H1912.3V1058.8H1904.3V1052.5H1902.3V1058.8H1896.3V1052.5H1892.3V1058.8H1885.3V1046.2H1881.3V1058.8H1876.3V1046.2H1874.3V1058.8H1865.3V1052.5H1860.3V1058.8H1858.3V1065.1H1852.3V1058.8H1818.3V1052.5H1817.3V1046.2H1816.3V1039.9H1815.3V1046.2H1814.3V1052.5H1807.3V1058.8H1804.3V1052.5H1782.3V1065.1H1772.3V1058.8H1770.3V1065.1H1767.3V1058.8H1764.3V1065.1H1757.3V1058.8H1755.3V1065.1H1750.3V1058.8H1748.3V1052.5H1745.3V1058.8H1729.3V1065.1H1726.3V1058.8H1724.3V1052.5H1718.3V1058.8H1716.3V1065.1H1708.3V1058.8H1706.3V1065.1H1702.3V1058.8H1691.3V1052.5H1687.3V1065.1H1684.3V1052.5H1682.3V1065.1H1677.3V1058.8H1672.3V1065.1H1668.3V1052.5H1662.3V1065.1H1652.3V1052.5H1644.3V1058.8H1638.3V1052.5H1628.3V1058.8H1625.3V1046.2H1619.3V1052.5H1616.3V1065.1H1613.3V1052.5H1610.3V1058.8H1604.3V1065.1H1600.3V1058.8H1579.3V1052.5H1576.3V1058.8H1570.3V1052.5H1568.3V1065.1H1563.3V1052.5H1560.3V1058.8H1555.3V1065.1H1551.3V1058.8H1542.3V1065.1H1539.3V1052.5H1536.3V1058.8H1534.3V1065.1H1531.3V1058.8H1528.3V1052.5H1526.3V1065.1H1519.3V1058.8H1513.3V1065.1H1509.3V1058.8H1502.3V1065.1H1486.3V1058.8H1484.3V1065.1H1474.3V1052.5H1472.3V1065.1H1465.3V1058.8H1462.3V1052.5H1460.3V1058.8H1452.3V1052.5H1444.3V1046.2H1441.3V1052.5H1440.3V1058.8H1439.3V1065.1H1436.3V1052.5H1432.3V1058.8H1420.3V1065.1H1417.3V1058.8H1409.3V1065.1H1391.3V1058.8H1375.3V1065.1H1365.3V1052.5H1363.3V1065.1H1361.3V1058.8H1359.3V1065.1H1355.3V1058.8H1346.3V1052.5H1338.3V1065.1H1335.3V1046.2H1330.3V1058.8H1326.3V1065.1H1323.3V1058.8H1313.3V1046.2H1311.3V1058.8H1305.3V1065.1H1300.3V1058.8H1298.3V1065.1H1295.3V1058.8H1290.3V1065.1H1278.3V1058.8H1267.3V1065.1H1261.3V1058.8H1254.3V1065.1H1232.3V1052.5H1228.3V1065.1H1219.3V1058.8H1216.3V1065.1H1213.3V1058.8H1211.3V1065.1H1208.3V1058.8H1198.3V1065.1H996.3V1046.2H995.3V1039.9H994.3V1033.6H993.3V1027.3H992.3V1021H989.3V1027.3H988.3V1033.6H987.3V1039.9H986.3V1046.2H985.3V1065.1H962.3V1052.5H961.3V1046.2H957.3V1052.5H956.3V1058.8H955.3V1065.1H947.3V1058.8H946.3V1052.5H944.3V1058.8H943.3V1065.1H923.3V1058.8H920.3V1065.1H917.3V1058.8H905.3V1065.1H900.3V1058.8H898.3V1065.1H867.3V1058.8H855.3V1065.1H850.3V1058.8H847.3V1065.1H843.3V1058.8H837.3V1065.1H834.3V1058.8H829.3V1065.1H823.3V1058.8H813.3V1065.1H808.3V1058.8H804.3V1065.1H788.3V1058.8H785.3V1065.1H774.3V1058.8H771.3V1052.5H770.3V1046.2H769.3V1039.9H766.3V1046.2H765.3V1052.5H763.3V1065.1H761.3V1058.8H759.3V1065.1H746.3V1058.8H741.3V1065.1H712.3V1052.5H711.3V1046.2H710.3V1039.9H709.3V1046.2H708.3V1058.8H700.3V1065.1H697.3V1058.8H689.3V1065.1H682.3V1058.8H679.3V1065.1H676.3V1058.8H664.3V1065.1H649.3V1058.8H646.3V1065.1H643.3V1058.8H636.3V1065.1H631.3V1046.2H630.3V1039.9H629.3V1027.3H628.3V1021H627.3V1014.7H626.3V1008.4H625.3V1014.7H624.3V1021H623.3V1033.6H622.3V1039.9H621.3V1065.1H612.3V1058.8H610.3V1052.5H609.3V1046.2H605.3V1052.5H604.3V1058.8H602.3V1065.1H594.3V1058.8H590.3V1065.1H587.3V1058.8H581.3V1065.1H570.3V1058.8H539.3V1065.1H536.3V1058.8H531.3V1065.1H527.3V1058.8H524.3V1065.1H515.3V1058.8H514.3V1052.5H512.3V1046.2H507.3V1052.5H506.3V1058.8H501.3V1065.1H488.3V1058.8H482.3V1065.1H477.3V1058.8H475.3V1065.1H458.3V1058.8H443.3V1065.1H440.3V1058.8H437.3V1065.1H429.3V1052.5H425.3V1058.8H412.3V1065.1H406.3V1058.8H403.3V1052.5H400.3V1058.8H397.3V1052.5H395.3V1065.1H390.3V1052.5H384.3V1065.1H377.3V1058.8H375.3V1065.1H372.3V1058.8H368.3V1065.1H365.3V1052.5H355.3V1058.8H345.3V1052.5H342.3V1046.2H336.3V1052.5H334.3V1058.8H332.3V1065.1H328.3V1052.5H326.3V1065.1H317.3V1058.8H271.3V1046.2H269.3V1065.1H265.3V1058.8H256.3V1052.5H254.3V1058.8H251.3V1052.5H247.3V1046.2H242.3V1065.1H239.3V1052.5H237.3V1065.1H228.3V1052.5H226.3V1058.8H222.3V1052.5H215.3V1058.8H205.3V1052.5H201.3V1046.2H195.3V1058.8H191.3V1052.5H184.3Z" fill="#3cb06c" stroke="#3cb06c" stroke-width="3.4" stroke-linejoin="round"/>
<path d="M184.3 708H185.3V682.8H188.3V708H191.3V689.1H194.3V701.7H198.3V695.4H200.3V689.1H202.3V701.7H206.3V689.1H210.3V708H214.3V701.7H217.3V708H219.3V701.7H223.3V708H242.3V695.4H246.3V708H249.3V695.4H252.3V714.3H255.3V701.7H258.3V708H261.3V701.7H264.3V708H268.3V720.6H273.3V701.7H283.3V695.4H287.3V701.7H292.3V708H300.3V701.7H303.3V720.6H307.3V701.7H312.3V714.3H314.3V682.8H315.3V670.2H317.3V676.5H318.3V695.4H319.3V700.9H320.3V708H328.3V720.6H330.3V708H333.3V714.3H336.3V708H341.3V714.3H349.3V708H360.3V714.3H370.3V720.6H373.3V714.3H378.3V708H381.3V714.3H384.3V726.9H387.3V714.3H390.3V720.6H395.3V714.3H400.3V708H403.3V720.6H405.3V701.7H407.3V714.3H414.3V708H421.3V714.3H424.3V720.6H428.3V708H431.3V714.3H440.3V708H443.3V726.9H446.3V714.3H452.3V708H455.3V714.3H457.3V708H460.3V701.7H464.3V708H472.3V726.9H476.3V708H481.3V701.7H484.3V708H486.3V720.6H489.3V714.3H497.3V708H500.3V726.9H507.3V714.3H513.3V708H516.3V714.3H519.3V726.9H525.3V708H529.3V720.6H538.3V726.9H540.3V720.6H545.3V714.3H550.3V726.9H555.3V720.6H559.3V726.9H561.3V714.3H563.3V701.7H566.3V714.3H569.3V720.6H571.3V714.3H574.3V708H576.3V720.6H578.3V701.7H581.3V733.2H587.3V701.7H590.3V720.6H593.3V708H597.3V714.3H602.3V708H604.3V701.7H607.3V708H609.3V714.3H614.3V726.9H616.3V708H620.3V701.7H623.3V708H625.3V714.3H627.3V701.7H640.3V720.6H642.3V708H645.3V720.6H647.3V708H662.3V714.3H666.3V701.7H669.3V708H673.3V714.3H681.3V708H687.3V720.6H690.3V701.7H693.3V714.3H697.3V689.1H700.3V714.3H711.3V720.6H713.3V714.3H721.3V701.7H726.3V714.3H730.3V708H733.3V714.3H737.3V720.6H740.3V714.3H742.3V708H748.3V726.9H753.3V720.6H769.3V708H772.3V726.9H776.3V733.2H779.3V714.3H781.3V720.6H784.3V714.3H787.3V720.6H796.3V714.3H802.3V695.4H805.3V720.6H806.3V701.7H809.3V714.3H811.3V726.9H817.3V720.6H820.3V708H824.3V714.3H826.3V708H829.3V720.6H831.3V708H835.3V714.3H840.3V708H843.3V714.3H847.3V726.9H851.3V701.7H854.3V720.6H855.3V714.3H859.3V708H862.3V714.3H864.3V720.6H873.3V714.3H876.3V726.9H879.3V701.7H882.3V714.3H892.3V720.6H895.3V708H899.3V714.3H902.3V701.7H906.3V695.4H907.3V682.8H910.3V701.7H914.3V708H915.3V701.7H927.3V676.5H929.3V670.2H934.3V663.9H937.3V689.1H938.3V676.5H941.3V670.2H942.3V663.9H944.3V676.5H946.3V682.8H949.3V676.5H954.3V670.2H957.3V695.4H962.3V701.7H966.3V676.5H969.3V695.4H980.3V714.3H993.3V708H996.3V720.6H998.3V714.3H1003.3V726.9H1006.3V714.3H1013.3V726.9H1017.3V720.6H1021.3V701.7H1024.3V708H1028.3V720.6H1035.3V708H1040.3V720.6H1042.3V726.9H1048.3V714.3H1051.3V720.6H1052.3V714.3H1056.3V726.9H1061.3V714.3H1063.3V708H1066.3V720.6H1068.3V714.3H1070.3V708H1072.3V689.1H1075.3V714.3H1077.3V708H1080.3V726.9H1083.3V708H1091.3V714.3H1097.3V695.4H1100.3V701.7H1101.3V714.3H1103.3V701.7H1106.3V714.3H1110.3V708H1113.3V714.3H1130.3V701.7H1133.3V714.3H1136.3V733.2H1138.3V726.9H1142.3V708H1153.3V733.2H1158.3V714.3H1160.3V708H1164.3V714.3H1165.3V676.5H1168.3V714.3H1171.3V726.9H1175.3V714.3H1181.3V720.6H1184.3V714.3H1186.3V689.1H1189.3V714.3H1193.3V708H1195.3V701.7H1198.3V720.6H1200.3V701.7H1203.3V720.6H1204.3V689.1H1207.3V720.6H1208.3V701.7H1214.3V708H1222.3V701.7H1226.3V708H1229.3V701.7H1231.3V695.4H1234.3V714.3H1240.3V701.7H1243.3V708H1250.3V714.3H1253.3V695.4H1258.3V701.7H1261.3V714.3H1264.3V708H1271.3V720.6H1274.3V714.3H1278.3V708H1281.3V714.3H1287.3V720.6H1292.3V714.3H1294.3V708H1297.3V714.3H1300.3V689.1H1303.3V708H1305.3V714.3H1307.3V708H1310.3V701.7H1313.3V714.3H1315.3V708H1318.3V714.3H1321.3V708H1323.3V720.6H1328.3V708H1333.3V720.6H1337.3V726.9H1340.3V720.6H1342.3V701.7H1345.3V726.9H1347.3V708H1348.3V689.1H1351.3V726.9H1353.3V708H1356.3V720.6H1357.3V708H1360.3V714.3H1363.3V701.7H1368.3V708H1374.3V720.6H1376.3V708H1378.3V701.7H1381.3V714.3H1383.3V708H1386.3V714.3H1391.3V701.7H1392.3V695.4H1395.3V708H1397.3V701.7H1400.3V708H1406.3V714.3H1408.3V701.7H1411.3V708H1413.3V695.4H1416.3V701.7H1418.3V708H1421.3V682.8H1424.3V708H1434.3V689.1H1437.3V701.7H1438.3V720.6H1443.3V708H1445.3V689.1H1446.3V657.6H1447.3V645H1450.3V676.5H1451.3V695.4H1452.3V701.7H1459.3V695.4H1462.3V701.7H1470.3V708H1472.3V695.4H1475.3V701.7H1484.3V695.4H1487.3V701.7H1493.3V714.3H1497.3V689.1H1500.3V708H1503.3V701.7H1507.3V695.4H1509.3V689.1H1512.3V708H1514.3V695.4H1518.3V701.7H1522.3V695.4H1526.3V708H1527.3V714.3H1530.3V708H1534.3V701.7H1539.3V695.4H1542.3V701.7H1549.3V708H1556.3V720.6H1559.3V708H1563.3V720.6H1565.3V714.3H1571.3V701.7H1574.3V695.4H1588.3V714.3H1591.3V701.7H1599.3V714.3H1606.3V701.7H1610.3V695.4H1613.3V708H1615.3V701.7H1617.3V695.4H1621.3V714.3H1625.3V708H1629.3V714.3H1637.3V720.6H1641.3V708H1642.3V689.1H1645.3V701.7H1647.3V708H1653.3V676.5H1656.3V714.3H1660.3V726.9H1663.3V720.6H1664.3V708H1674.3V726.9H1676.3V714.3H1680.3V682.8H1683.3V714.3H1691.3V708H1694.3V714.3H1697.3V708H1698.3V695.4H1701.3V708H1704.3V714.3H1712.3V708H1716.3V720.6H1718.3V695.4H1721.3V708H1723.3V714.3H1725.3V720.6H1728.3V701.7H1734.3V695.4H1737.3V714.3H1740.3V695.4H1743.3V701.7H1745.3V714.3H1749.3V695.4H1752.3V682.8H1755.3V714.3H1761.3V708H1765.3V720.6H1766.3V708H1777.3V676.5H1780.3V714.3H1782.3V708H1791.3V714.3H1793.3V695.4H1796.3V708H1801.3V701.7H1804.3V708H1806.3V714.3H1808.3V708H1814.3V714.3H1819.3V701.7H1822.3V695.4H1825.3V708H1835.3V720.6H1837.3V714.3H1845.3V708H1848.3V714.3H1857.3V708H1861.3V701.7H1865.3V714.3H1872.3V701.7H1875.3V714.3H1880.3V708H1884.3V701.7H1890.3V720.6H1892.3V708H1902.3V701.7H1905.3V720.6H1907.3V708H1910.3V676.5H1913.3V695.4H1925.3V701.7H1934.3V714.3H1935.3V708H1941.3V714.3H1943.3V708H1954.3V714.3H1961.3V708H1964.3V682.8H1967.3V714.3H1972.3V701.7H1976.3V714.3H1978.3V708H1985.3V695.4H1992.3V708H1995.3V695.4H1998.3V701.7H2009.3V695.4H2012.3V720.6H2014.3V714.3H2018.3V708H2021.3V714.3H2025.3V708H2029.3V720.6H2037.3V714.3H2043.3V708H2045.3V695.4H2048.3V708H2052.3V714.3H2054.3V708H2065.3V714.3H2070.3V701.7H2075.3V695.4H2081.3V701.7H2087.3V708H2091.3V695.4H2094.3V708H2096.3V695.4H2103.3V720.6H2105.3V695.4H2109.3V714.3H2111.3V708H2118.3V720.6H2119.3V689.1H2122.3V720.6H2124.3V714.3H2126.3V708H2135.3V720.6H2137.3V701.7H2139.3V708H2142.3V695.4H2145.3V708H2147.3V714.3H2153.3V708H2156.3V720.6H2159.3V701.7H2162.3V708H2164.3V701.7H2167.3V714.3H2170.3V708H2173.3V720.6H2175.3V714.3H2177.3V708H2178.3V695.4H2181.3V708H2182.3V714.3H2186.3V708H2190.3V735.3H2186.3V741.6H2184.3V747.9H2181.3V741.6H2176.3V747.9H2173.3V741.6H2169.3V735.3H2167.3V741.6H2164.3V735.3H2162.3V741.6H2160.3V747.9H2149.3V741.6H2145.3V735.3H2140.3V741.6H2138.3V747.9H2135.3V741.6H2129.3V747.9H2126.3V735.3H2123.3V747.9H2110.3V741.6H2099.3V747.9H2096.3V735.3H2090.3V741.6H2087.3V735.3H2085.3V741.6H2080.3V747.9H2078.3V741.6H2076.3V747.9H2072.3V741.6H2068.3V729H2060.3V747.9H2052.3V735.3H2049.3V747.9H2035.3V735.3H2033.3V747.9H2029.3V735.3H2027.3V741.6H2024.3V735.3H2022.3V741.6H2017.3V747.9H2014.3V735.3H2010.3V747.9H2007.3V741.6H2004.3V735.3H1999.3V747.9H1996.3V741.6H1973.3V735.3H1970.3V729H1967.3V747.9H1964.3V741.6H1955.3V747.9H1950.3V735.3H1948.3V741.6H1929.3V747.9H1926.3V741.6H1921.3V747.9H1913.3V741.6H1901.3V735.3H1896.3V741.6H1887.3V747.9H1879.3V741.6H1870.3V747.9H1855.3V735.3H1848.3V747.9H1843.3V741.6H1838.3V747.9H1823.3V741.6H1819.3V747.9H1814.3V741.6H1796.3V735.3H1784.3V741.6H1765.3V747.9H1757.3V735.3H1753.3V741.6H1750.3V735.3H1744.3V747.9H1741.3V741.6H1737.3V735.3H1734.3V741.6H1714.3V735.3H1712.3V741.6H1707.3V747.9H1705.3V735.3H1702.3V741.6H1692.3V735.3H1689.3V741.6H1685.3V747.9H1667.3V741.6H1661.3V747.9H1658.3V741.6H1651.3V747.9H1646.3V735.3H1644.3V741.6H1612.3V747.9H1604.3V741.6H1602.3V735.3H1597.3V747.9H1593.3V741.6H1590.3V747.9H1581.3V741.6H1575.3V735.3H1573.3V747.9H1569.3V741.6H1562.3V747.9H1559.3V735.3H1558.3V747.9H1552.3V735.3H1548.3V747.9H1545.3V735.3H1541.3V747.9H1535.3V741.6H1528.3V747.9H1522.3V741.6H1517.3V747.9H1514.3V741.6H1512.3V747.9H1509.3V741.6H1495.3V747.9H1491.3V735.3H1488.3V741.6H1484.3V747.9H1475.3V741.6H1473.3V735.3H1469.3V741.6H1455.3V747.9H1452.3V741.6H1451.3V729H1450.3V722.7H1449.3V716.4H1448.3V722.7H1447.3V729H1446.3V735.3H1445.3V747.9H1443.3V735.3H1441.3V747.9H1438.3V741.6H1436.3V735.3H1433.3V741.6H1429.3V747.9H1420.3V741.6H1415.3V747.9H1412.3V741.6H1409.3V747.9H1406.3V741.6H1402.3V747.9H1398.3V735.3H1396.3V741.6H1388.3V735.3H1381.3V741.6H1377.3V735.3H1375.3V747.9H1369.3V735.3H1367.3V741.6H1365.3V747.9H1362.3V741.6H1347.3V747.9H1343.3V741.6H1334.3V747.9H1322.3V741.6H1319.3V747.9H1316.3V735.3H1313.3V741.6H1311.3V747.9H1308.3V741.6H1306.3V747.9H1298.3V735.3H1290.3V747.9H1280.3V735.3H1276.3V747.9H1272.3V741.6H1268.3V735.3H1266.3V747.9H1260.3V741.6H1256.3V747.9H1247.3V735.3H1240.3V741.6H1237.3V729H1235.3V741.6H1230.3V747.9H1226.3V741.6H1222.3V747.9H1219.3V735.3H1217.3V741.6H1213.3V735.3H1209.3V741.6H1190.3V747.9H1187.3V741.6H1182.3V747.9H1178.3V741.6H1176.3V747.9H1167.3V741.6H1165.3V747.9H1161.3V741.6H1155.3V747.9H1148.3V741.6H1139.3V747.9H1134.3V735.3H1126.3V747.9H1123.3V741.6H1118.3V747.9H1113.3V741.6H1110.3V747.9H1107.3V741.6H1105.3V747.9H1102.3V741.6H1099.3V747.9H1094.3V741.6H1090.3V747.9H1085.3V735.3H1082.3V747.9H1077.3V741.6H1074.3V747.9H1070.3V741.6H1053.3V747.9H1050.3V741.6H1048.3V747.9H1042.3V741.6H1039.3V747.9H1037.3V741.6H1032.3V747.9H1001.3V741.6H994.3V747.9H990.3V741.6H979.3V747.9H974.3V741.6H966.3V729H963.3V735.3H955.3V741.6H947.3V729H941.3V722.7H934.3V729H927.3V735.3H922.3V729H920.3V741.6H917.3V729H915.3V747.9H909.3V735.3H900.3V747.9H897.3V735.3H894.3V741.6H889.3V735.3H887.3V741.6H883.3V747.9H836.3V735.3H832.3V741.6H829.3V735.3H827.3V747.9H816.3V741.6H815.3V747.9H808.3V741.6H804.3V747.9H801.3V741.6H791.3V747.9H784.3V741.6H782.3V747.9H774.3V741.6H759.3V735.3H757.3V747.9H754.3V735.3H752.3V741.6H748.3V747.9H742.3V741.6H740.3V747.9H724.3V735.3H722.3V747.9H719.3V735.3H708.3V741.6H697.3V735.3H694.3V747.9H691.3V741.6H688.3V747.9H679.3V741.6H667.3V747.9H664.3V741.6H657.3V735.3H655.3V741.6H650.3V747.9H644.3V741.6H639.3V747.9H629.3V741.6H626.3V747.9H612.3V741.6H610.3V747.9H607.3V741.6H581.3V747.9H573.3V741.6H569.3V735.3H566.3V747.9H563.3V741.6H551.3V747.9H546.3V741.6H543.3V747.9H536.3V741.6H534.3V735.3H529.3V741.6H526.3V747.9H521.3V741.6H519.3V747.9H517.3V741.6H492.3V747.9H486.3V735.3H482.3V741.6H478.3V747.9H475.3V741.6H471.3V735.3H467.3V741.6H461.3V747.9H457.3V741.6H455.3V747.9H441.3V735.3H435.3V741.6H432.3V735.3H428.3V741.6H423.3V747.9H416.3V735.3H413.3V741.6H408.3V747.9H401.3V741.6H399.3V747.9H396.3V741.6H385.3V747.9H378.3V741.6H371.3V735.3H370.3V747.9H358.3V741.6H355.3V747.9H352.3V735.3H347.3V747.9H344.3V741.6H342.3V747.9H338.3V741.6H325.3V747.9H322.3V741.6H320.3V735.3H317.3V729H315.3V735.3H314.3V741.6H313.3V747.9H298.3V741.6H296.3V735.3H295.3V741.6H293.3V747.9H288.3V735.3H283.3V741.6H269.3V735.3H265.3V741.6H251.3V735.3H249.3V741.6H245.3V747.9H241.3V741.6H223.3V729H218.3V735.3H214.3V729H209.3V735.3H201.3V747.9H198.3V729H194.3V741.6H191.3V735.3H189.3V722.7H187.3V741.6H184.3Z" fill="#2440ff" stroke="#2440ff" stroke-width="3.4" stroke-linejoin="round"/>
</g>
<g id="labels">
<text x="183.3" y="1737.3" font-family="'Liberation Serif', serif" font-weight="bold" font-size="69.6" text-anchor="middle">20</text>
<text x="757.0" y="1737.3" font-family="'Liberation Serif', serif" font-weight="bold" font-size="69.6" text-anchor="middle">40</text>
<text x="1330.7" y="1737.3" font-family="'Liberation Serif', serif" font-weight="bold" font-size="69.6" text-anchor="middle">60</text>
<text x="1904.7" y="1737.3" font-family="'Liberation Serif', serif" font-weight="bold" font-size="69.6" text-anchor="middle">80</text>
<text transform="translate(1200.4 1835.8) scale(0.988 1)" font-family="'Liberation Serif', serif" font-weight="bold" font-size="86.5" text-anchor="middle">2θ(deg)</text>
<text transform="translate(99.4 890.6) rotate(-90) scale(0.967 1)" font-family="'Liberation Serif', serif" font-weight="bold" font-size="87" text-anchor="middle">Intensity(a.u)</text>
</g>
<g id="legend">
<line x1="1202.6" y1="152.0" x2="1389" y2="152.0" stroke="#8000ff" stroke-width="12" stroke-linecap="round"/>
<text x="1410.8" y="179.2" font-family="'Liberation Serif', serif" font-weight="bold" font-size="83.9">AlSi10Mg</text>
<line x1="1202.6" y1="257.5" x2="1389" y2="257.5" stroke="#f04040" stroke-width="12" stroke-linecap="round"/>
<text x="1410.8" y="284.9" font-family="'Liberation Serif', serif" font-weight="bold" font-size="83.9">20%WC</text>
<line x1="1202.6" y1="363.1" x2="1389" y2="363.1" stroke="#3cb06c" stroke-width="12" stroke-linecap="round"/>
<text x="1410.8" y="390.5" font-family="'Liberation Serif', serif" font-weight="bold" font-size="83.9">40%WC</text>
<line x1="1202.6" y1="468.7" x2="1389" y2="468.7" stroke="#2440ff" stroke-width="12" stroke-linecap="round"/>
<text x="1410.8" y="496.2" font-family="'Liberation Serif', serif" font-weight="bold" font-size="83.9">60%WC</text>
</g>
<g id="phases">
<text transform="matrix(0.5556 0 0 0.4795 1866.64 102.80)" font-family="'DejaVu Sans', sans-serif" font-size="100">♣</text>
<text transform="matrix(0.5135 0 0 0.4717 1868.12 198.00)" font-family="'DejaVu Sans', sans-serif" font-size="100">♦</text>
<text transform="matrix(0.5759 0 0 0.4685 1865.19 280.30)" font-family="'DejaVu Sans', sans-serif" font-size="100">♠</text>
<text transform="matrix(0.4681 0 0 0.4616 1870.54 371.15)" font-family="'DejaVu Sans', sans-serif" font-size="100">♥</text>
<text transform="matrix(0.5488 0 0 0.5488 1866.03 458.77)" font-family="'Liberation Serif', serif" font-size="100">●</text>
<text transform="matrix(-0.6016 0 0 0.5411 1911.45 541.45)" font-family="'DejaVu Serif', serif" stroke="#000" stroke-width="0.92" stroke-linejoin="miter" font-size="100">∇</text>
<text transform="matrix(0.5816 0 0 0.6244 1867.62 624.45)" font-family="'Liberation Serif', serif" stroke="#000" stroke-width="1.03" stroke-linejoin="miter" font-size="100">Λ</text>
<text transform="scale(0.800 1)" x="2430.6 2469.4 2509.0 2548.1 2585.7" y="103.7 103.7 119.2 103.7 119.7" font-family="'Liberation Mono', monospace" font-size="65.5" text-anchor="middle" stroke="#fff" stroke-width="1.5">Al4C3</text>
<text transform="scale(0.800 1)" x="2451.5 2490.6" y="198.0 198.0" font-family="'Liberation Mono', monospace" font-size="65.5" text-anchor="middle" stroke="#fff" stroke-width="1.5">WC</text>
<text transform="scale(0.800 1)" x="2448.0 2488.8 2530.0 2565.0 2605.7 2646.0 2683.2" y="280.3 280.3 290.9 280.3 280.3 280.3 290.9" font-family="'Liberation Mono', monospace" font-size="65.5" text-anchor="middle" stroke="#fff" stroke-width="1.5">Al4SiC4</text>
<text transform="scale(0.800 1)" x="2450.5 2489.4 2528.2" y="370.3 382.1 370.3" font-family="'Liberation Mono', monospace" font-size="65.5" text-anchor="middle" stroke="#fff" stroke-width="1.5">W2C</text>
<text transform="scale(0.800 1)" x="2426.5 2466.5 2505.6" y="460.8 460.8 460.8" font-family="'Liberation Mono', monospace" font-size="65.5" text-anchor="middle" stroke="#fff" stroke-width="1.5">SiC</text>
<text transform="scale(0.800 1)" x="2427.4 2467.8" y="541.2 541.2" font-family="'Liberation Mono', monospace" font-size="65.5" text-anchor="middle" stroke="#fff" stroke-width="1.5">Al</text>
<text transform="scale(0.800 1)" x="2425.5 2466.2 2502.4 2543.6 2583.9" y="623.2 623.2 637.2 623.2 637.2" font-family="'Liberation Mono', monospace" font-size="65.5" text-anchor="middle" stroke="#fff" stroke-width="1.5">Al2O3</text>
</g>
<g id="markers">
<text transform="matrix(0.4889 0 0 0.4247 293.92 655.90)" font-family="'DejaVu Sans', sans-serif" font-size="100">♣</text>
<text transform="matrix(0.4324 0 0 0.4069 593.65 650.15)" font-family="'DejaVu Sans', sans-serif" font-size="100">♦</text>
<text transform="matrix(0.4651 0 0 0.4651 590.85 692.62)" font-family="'Liberation Serif', serif" font-size="100">●</text>
<text transform="matrix(0.4681 0 0 0.5282 631.43 703.10)" font-family="'Liberation Serif', serif" font-size="100">Λ</text>
<text transform="matrix(-0.3359 0 0 0.3014 709.59 621.00)" font-family="'DejaVu Serif', serif" font-size="100">∇</text>
<text transform="matrix(0.4889 0 0 0.4247 678.12 675.80)" font-family="'DejaVu Sans', sans-serif" font-size="100">♣</text>
<text transform="matrix(-0.3359 0 0 0.3014 950.19 642.60)" font-family="'DejaVu Serif', serif" font-size="100">∇</text>
<text transform="matrix(0.4681 0 0 0.5282 971.03 619.70)" font-family="'Liberation Serif', serif" font-size="100">Λ</text>
<text transform="matrix(0.4324 0 0 0.4069 967.15 671.75)" font-family="'DejaVu Sans', sans-serif" font-size="100">♦</text>
<text transform="matrix(0.3889 0 0 0.3836 1015.10 681.70)" font-family="'DejaVu Sans', sans-serif" font-size="100">♥</text>
<text transform="matrix(0.4889 0 0 0.4247 1147.72 672.70)" font-family="'DejaVu Sans', sans-serif" font-size="100">♣</text>
<text transform="matrix(0.4651 0 0 0.4651 1341.05 675.82)" font-family="'Liberation Serif', serif" font-size="100">●</text>
<text transform="matrix(0.4681 0 0 0.5282 1431.03 630.80)" font-family="'Liberation Serif', serif" font-size="100">Λ</text>
<text transform="matrix(0.3889 0 0 0.3836 1604.90 677.40)" font-family="'DejaVu Sans', sans-serif" font-size="100">♥</text>
<text transform="matrix(-0.4219 0 0 0.3699 1824.15 673.20)" font-family="'DejaVu Serif', serif" font-size="100">∇</text>
<text transform="matrix(0.4889 0 0 0.4247 325.52 953.20)" font-family="'DejaVu Sans', sans-serif" font-size="100">♣</text>
<text transform="matrix(0.3889 0 0 0.3836 498.80 852.60)" font-family="'DejaVu Sans', sans-serif" font-size="100">♥</text>
<text transform="matrix(0.5172 0 0 0.3973 495.52 891.10)" font-family="'DejaVu Sans', sans-serif" font-size="100">♠</text>
<text transform="matrix(0.4324 0 0 0.4069 495.65 930.75)" font-family="'DejaVu Sans', sans-serif" font-size="100">♦</text>
<text transform="matrix(0.4889 0 0 0.4247 490.72 980.50)" font-family="'DejaVu Sans', sans-serif" font-size="100">♣</text>
<text transform="matrix(0.4651 0 0 0.4651 604.55 825.52)" font-family="'Liberation Serif', serif" font-size="100">●</text>
<text transform="matrix(0.4889 0 0 0.4247 601.62 863.50)" font-family="'DejaVu Sans', sans-serif" font-size="100">♣</text>
<text transform="matrix(0.4324 0 0 0.4069 606.65 897.55)" font-family="'DejaVu Sans', sans-serif" font-size="100">♦</text>
<text transform="matrix(0.4324 0 0 0.4069 580.45 940.75)" font-family="'DejaVu Sans', sans-serif" font-size="100">♦</text>
<text transform="matrix(0.4651 0 0 0.4651 588.35 981.82)" font-family="'Liberation Serif', serif" font-size="100">●</text>
<text transform="matrix(0.4681 0 0 0.5282 643.03 1006.70)" font-family="'Liberation Serif', serif" font-size="100">Λ</text>
<text transform="matrix(-0.3359 0 0 0.3014 723.39 916.00)" font-family="'DejaVu Serif', serif" font-size="100">∇</text>
<text transform="matrix(0.4889 0 0 0.4247 685.12 970.50)" font-family="'DejaVu Sans', sans-serif" font-size="100">♣</text>
<text transform="matrix(0.5172 0 0 0.3973 746.42 947.20)" font-family="'DejaVu Sans', sans-serif" font-size="100">♠</text>
<text transform="matrix(-0.3359 0 0 0.3014 953.29 977.80)" font-family="'DejaVu Serif', serif" font-size="100">∇</text>
<text transform="matrix(0.4324 0 0 0.4069 972.85 848.35)" font-family="'DejaVu Sans', sans-serif" font-size="100">♦</text>
<text transform="matrix(0.4681 0 0 0.5282 979.53 905.80)" font-family="'Liberation Serif', serif" font-size="100">Λ</text>
<text transform="matrix(0.5172 0 0 0.3973 1022.52 963.30)" font-family="'DejaVu Sans', sans-serif" font-size="100">♠</text>
<text transform="matrix(0.3889 0 0 0.3836 1032.50 1011.40)" font-family="'DejaVu Sans', sans-serif" font-size="100">♥</text>
<text transform="matrix(0.4651 0 0 0.4651 1354.25 984.32)" font-family="'Liberation Serif', serif" font-size="100">●</text>
<text transform="matrix(0.4681 0 0 0.5282 1423.53 976.30)" font-family="'Liberation Serif', serif" font-size="100">Λ</text>
<text transform="matrix(0.3889 0 0 0.3836 1617.30 972.20)" font-family="'DejaVu Sans', sans-serif" font-size="100">♥</text>
<text transform="matrix(-0.3359 0 0 0.3014 1826.19 968.00)" font-family="'DejaVu Serif', serif" font-size="100">∇</text>
<text transform="matrix(0.4889 0 0 0.4247 315.52 1228.20)" font-family="'DejaVu Sans', sans-serif" font-size="100">♣</text>
<text transform="matrix(0.4324 0 0 0.4069 582.95 1203.25)" font-family="'DejaVu Sans', sans-serif" font-size="100">♦</text>
<text transform="matrix(0.4651 0 0 0.4651 590.05 1238.82)" font-family="'Liberation Serif', serif" font-size="100">●</text>
<text transform="matrix(0.4651 0 0 0.4651 634.45 1169.02)" font-family="'Liberation Serif', serif" font-size="100">●</text>
<text transform="matrix(0.4681 0 0 0.5282 637.03 1223.30)" font-family="'Liberation Serif', serif" font-size="100">Λ</text>
<text transform="matrix(0.4889 0 0 0.4247 684.32 1149.70)" font-family="'DejaVu Sans', sans-serif" font-size="100">♣</text>
<text transform="matrix(-0.3359 0 0 0.3014 718.39 1184.70)" font-family="'DejaVu Serif', serif" font-size="100">∇</text>
<text transform="matrix(0.5172 0 0 0.3973 749.42 1229.10)" font-family="'DejaVu Sans', sans-serif" font-size="100">♠</text>
<text transform="matrix(-0.3359 0 0 0.3014 963.19 1177.50)" font-family="'DejaVu Serif', serif" font-size="100">∇</text>
<text transform="matrix(0.4324 0 0 0.4069 969.15 1178.25)" font-family="'DejaVu Sans', sans-serif" font-size="100">♦</text>
<text transform="matrix(0.4681 0 0 0.5282 970.83 1239.30)" font-family="'Liberation Serif', serif" font-size="100">Λ</text>
<text transform="matrix(0.3889 0 0 0.3836 1010.90 1256.00)" font-family="'DejaVu Sans', sans-serif" font-size="100">♥</text>
<text transform="matrix(0.4889 0 0 0.4247 1059.32 1246.30)" font-family="'DejaVu Sans', sans-serif" font-size="100">♣</text>
<text transform="matrix(0.4651 0 0 0.4651 1354.25 1234.22)" font-family="'Liberation Serif', serif" font-size="100">●</text>
<text transform="matrix(0.4681 0 0 0.5282 1439.73 1218.80)" font-family="'Liberation Serif', serif" font-size="100">Λ</text>
<text transform="matrix(0.3889 0 0 0.3836 1669.60 1246.00)" font-family="'DejaVu Sans', sans-serif" font-size="100">♥</text>
<text transform="matrix(-0.3359 0 0 0.3014 1826.19 1255.50)" font-family="'DejaVu Serif', serif" font-size="100">∇</text>
<text transform="matrix(0.4651 0 0 0.4651 636.95 1456.52)" font-family="'Liberation Serif', serif" font-size="100">●</text>
<text transform="matrix(0.4651 0 0 0.4651 599.05 1497.72)" font-family="'Liberation Serif', serif" font-size="100">●</text>
<text transform="matrix(0.4681 0 0 0.5282 636.43 1501.30)" font-family="'Liberation Serif', serif" font-size="100">Λ</text>
<text transform="matrix(-0.3359 0 0 0.3014 786.59 1485.80)" font-family="'DejaVu Serif', serif" font-size="100">∇</text>
<text transform="matrix(0.4681 0 0 0.5282 1413.03 1477.70)" font-family="'Liberation Serif', serif" font-size="100">Λ</text>
<text transform="matrix(-0.3359 0 0 0.3014 1827.59 1439.60)" font-family="'DejaVu Serif', serif" font-size="100">∇</text>
</g>
</svg>
</body>
</html>
